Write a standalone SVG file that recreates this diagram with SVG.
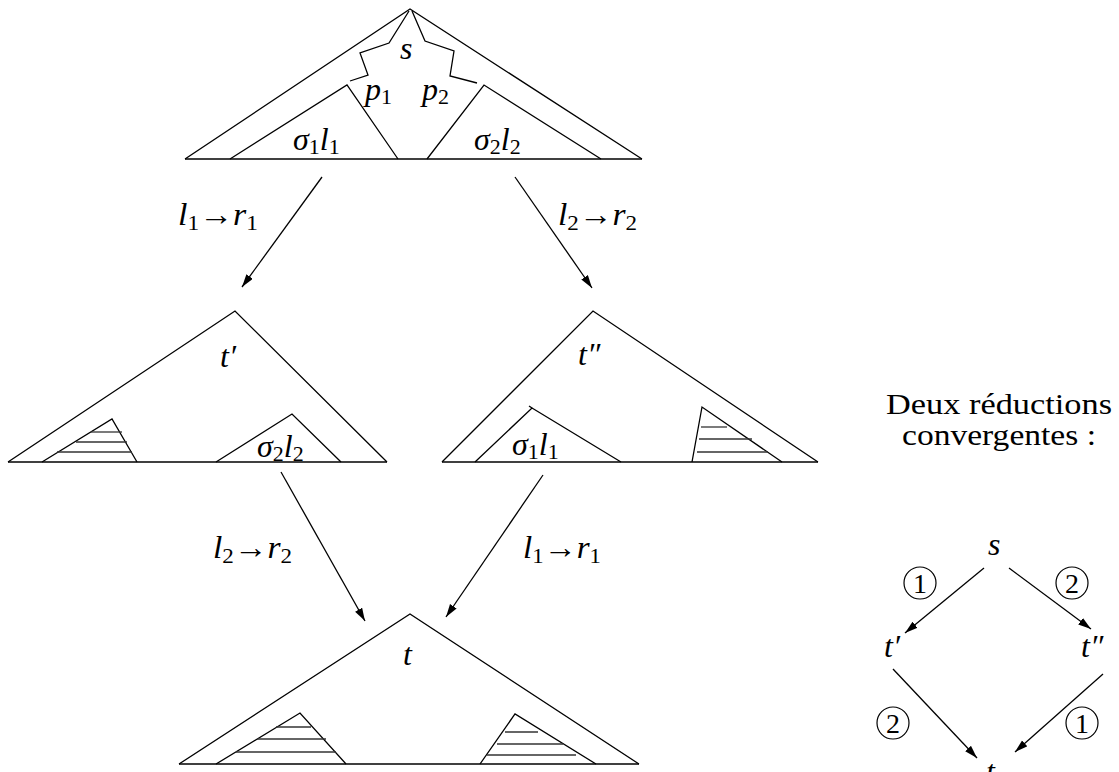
<svg xmlns="http://www.w3.org/2000/svg" width="1119" height="772" viewBox="0 0 1119 772">
<style>
line,polyline,polygon{stroke:#000;stroke-width:1.3;fill:none;stroke-linejoin:miter}
.h{stroke:#333;stroke-width:1.3}
text{font-family:"Liberation Serif","DejaVu Serif","Times New Roman",serif;fill:#000}
.m{font-size:32px;font-style:italic}
.sb{font-size:22px;font-style:normal}
.up{font-style:normal}
.c{font-size:28px;text-anchor:middle}
.cap{font-size:29px;text-anchor:middle}
circle{fill:none;stroke:#000;stroke-width:1.2}
</style>
<defs>
<marker id="ah" markerUnits="userSpaceOnUse" markerWidth="14" markerHeight="10" refX="13" refY="4" orient="auto">
<path d="M0,0 L13,4 L0,8 z" fill="#000"/>
</marker>
</defs>

<g id="tree-s">
<polyline points="185,159 410,9 642,159"/>
<line x1="185" y1="159" x2="642" y2="159"/>
<polyline points="230,159 347,85 398,159"/>
<polyline points="427,159 484,85 601,159"/>
<polyline points="409,11 389,43 360,53 368,75 350,81"/>
<polyline points="412,11 425,41 454,51 450,76 477,83"/>
<text class="m" x="400" y="59">s</text>
<text class="m" x="365" y="100">p<tspan class="sb" dy="4">1</tspan></text>
<text class="m" x="422" y="100">p<tspan class="sb" dy="4">2</tspan></text>
<text class="m" x="293" y="150">σ<tspan class="sb" dy="4">1</tspan><tspan dy="-4">l</tspan><tspan class="sb" dy="4">1</tspan></text>
<text class="m" x="474" y="150">σ<tspan class="sb" dy="4">2</tspan><tspan dy="-4">l</tspan><tspan class="sb" dy="4">2</tspan></text>
</g>

<g id="tree-t1">
<polyline points="8,462 235,311 387,462"/>
<line x1="8" y1="462" x2="387" y2="462"/>
<polyline points="42,462 112,419 137,462"/>
<line class="h" x1="91" y1="432" x2="122" y2="432"/>
<line class="h" x1="76" y1="442" x2="127" y2="442"/>
<line class="h" x1="57" y1="452" x2="132" y2="452"/>
<polyline points="216,462 292,414 341,462"/>
<text class="m" x="220" y="367">t′</text>
<text class="m" x="257" y="457">σ<tspan class="sb" dy="4">2</tspan><tspan dy="-4">l</tspan><tspan class="sb" dy="4">2</tspan></text>
</g>

<g id="tree-t2">
<polyline points="442,462 593,311 818,462"/>
<line x1="442" y1="462" x2="818" y2="462"/>
<polyline points="475,462 532,408 621,462"/>
<line x1="532" y1="408" x2="529" y2="406"/>
<polyline points="692,462 702,407 782,462"/>
<line class="h" x1="701" y1="427" x2="727" y2="427"/>
<line class="h" x1="699" y1="439" x2="752" y2="439"/>
<line class="h" x1="697" y1="452" x2="768" y2="452"/>
<text class="m" x="578" y="365">t″</text>
<text class="m" x="512" y="455">σ<tspan class="sb" dy="4">1</tspan><tspan dy="-4">l</tspan><tspan class="sb" dy="4">1</tspan></text>
</g>

<g id="tree-t">
<polyline points="179,764 410,614 639,764"/>
<line x1="179" y1="764" x2="639" y2="764"/>
<polyline points="216,764 300,713 346,764"/>
<line class="h" x1="276" y1="727" x2="311" y2="727"/>
<line class="h" x1="257" y1="739" x2="326" y2="739"/>
<line class="h" x1="236" y1="752" x2="336" y2="752"/>
<polyline points="480,764 515,714 596,764"/>
<line class="h" x1="505" y1="732" x2="538" y2="732"/>
<line class="h" x1="497" y1="744" x2="563" y2="744"/>
<line class="h" x1="487" y1="755" x2="576" y2="755"/>
<text class="m" x="403" y="665">t</text>
</g>

<g id="connectors">
<line x1="322" y1="177" x2="242" y2="287" marker-end="url(#ah)"/>
<line x1="515" y1="177" x2="592" y2="288" marker-end="url(#ah)"/>
<line x1="281" y1="472" x2="365" y2="621" marker-end="url(#ah)"/>
<line x1="543" y1="475" x2="446" y2="617" marker-end="url(#ah)"/>
<line x1="984" y1="568" x2="905" y2="633" marker-end="url(#ah)"/>
<line x1="1009" y1="568" x2="1091" y2="629" marker-end="url(#ah)"/>
<line x1="893" y1="669" x2="977" y2="758" marker-end="url(#ah)"/>
<line x1="1103" y1="674" x2="1015" y2="752" marker-end="url(#ah)"/>
</g>

<g id="arrow-labels">
<text class="m" x="178" y="225" textLength="80" lengthAdjust="spacingAndGlyphs">l<tspan class="sb" dy="5">1</tspan><tspan class="up" dy="-5">→</tspan>r<tspan class="sb" dy="5">1</tspan></text>
<text class="m" x="558" y="225" textLength="79" lengthAdjust="spacingAndGlyphs">l<tspan class="sb" dy="5">2</tspan><tspan class="up" dy="-5">→</tspan>r<tspan class="sb" dy="5">2</tspan></text>
<text class="m" x="213" y="558" textLength="79" lengthAdjust="spacingAndGlyphs">l<tspan class="sb" dy="5">2</tspan><tspan class="up" dy="-5">→</tspan>r<tspan class="sb" dy="5">2</tspan></text>
<text class="m" x="523" y="558" textLength="78" lengthAdjust="spacingAndGlyphs">l<tspan class="sb" dy="5">1</tspan><tspan class="up" dy="-5">→</tspan>r<tspan class="sb" dy="5">1</tspan></text>
</g>

<g id="caption">
<text class="cap" x="999" y="414" textLength="226" lengthAdjust="spacingAndGlyphs">Deux réductions</text>
<text class="cap" x="999" y="445" textLength="194" lengthAdjust="spacingAndGlyphs">convergentes :</text>
</g>

<g id="node-s"><text class="m" x="988" y="555">s</text></g>
<g id="node-t1"><text class="m" x="884" y="657">t′</text></g>
<g id="node-t2"><text class="m" x="1081" y="657">t″</text></g>
<g id="node-t"><text class="m" x="986" y="782">t</text></g>

<g id="step-labels">
<circle cx="920" cy="583" r="16"/><text class="c" x="920" y="593">1</text>
<circle cx="1072" cy="583" r="16"/><text class="c" x="1072" y="593">2</text>
<circle cx="893" cy="723" r="16"/><text class="c" x="893" y="733">2</text>
<circle cx="1082" cy="723" r="16"/><text class="c" x="1082" y="733">1</text>
</g>
</svg>
